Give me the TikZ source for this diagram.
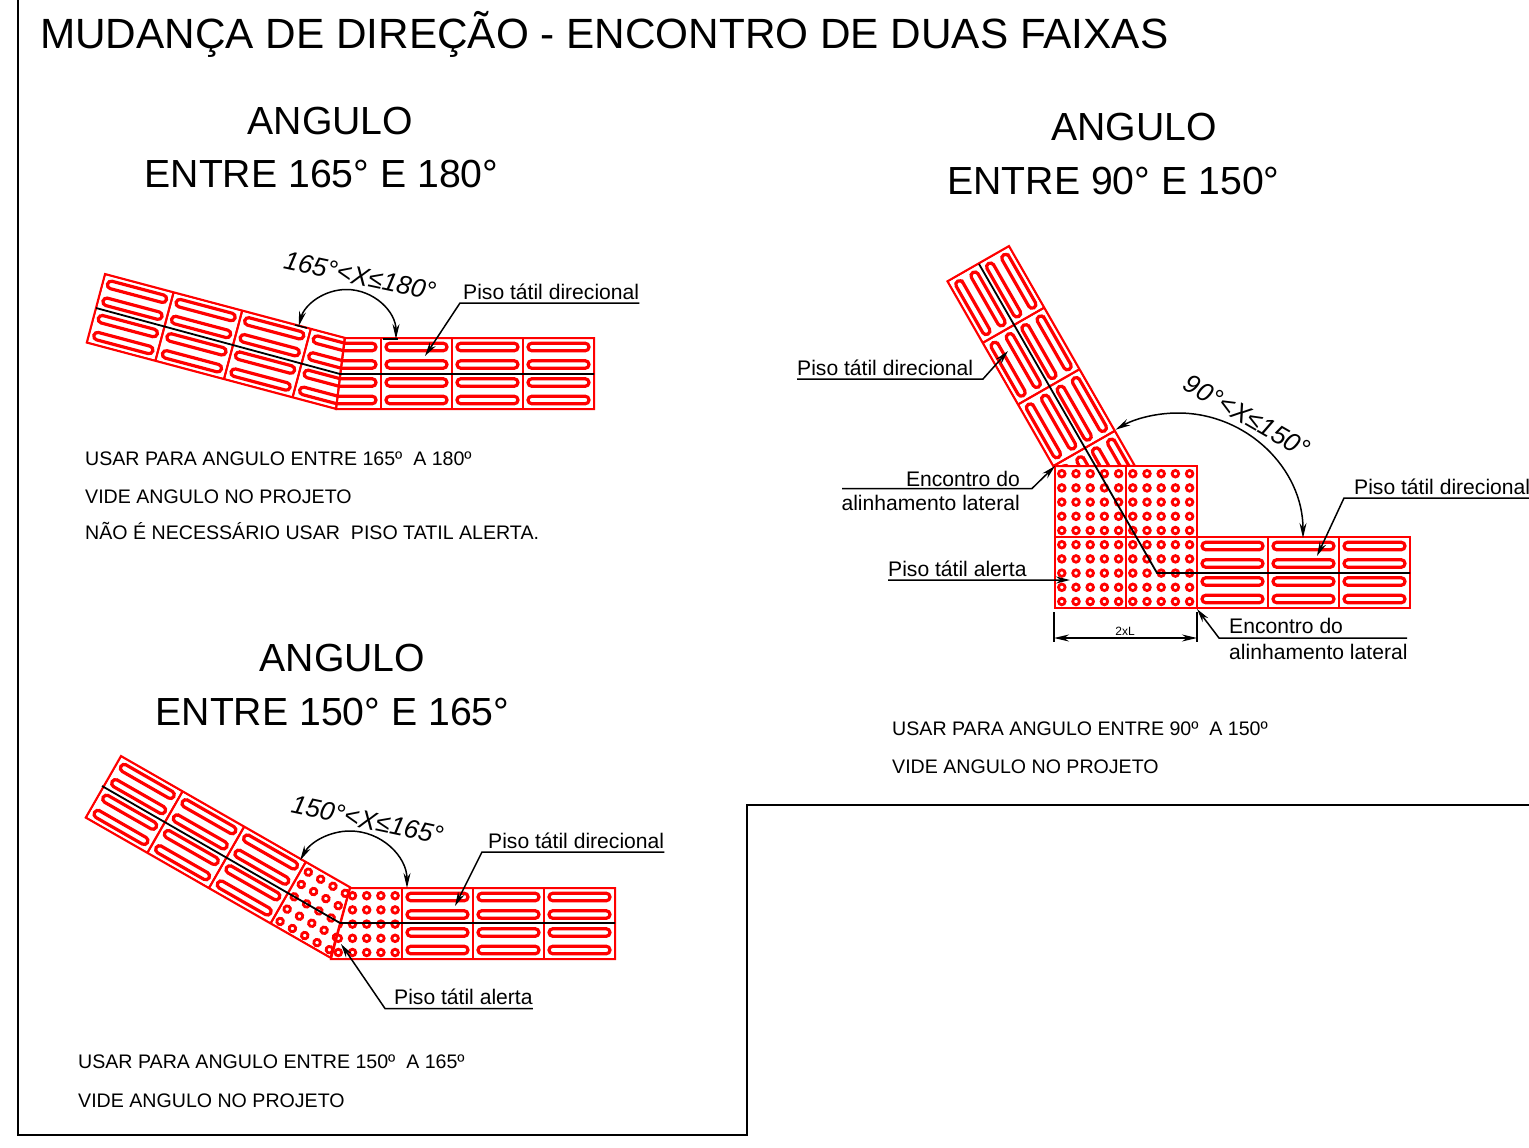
\documentclass[tikz,border=0pt]{standalone}
\usepackage{fontspec}
\setmainfont{Liberation Sans}
\usepackage{tikz}
\usetikzlibrary{arrows.meta}

\tikzset{
	tile/.style = {draw = red, line width = 2pt, line join = miter},
	slot/.style = {draw = red, line width = 3.2pt},
	ring/.style = {draw = red, line width = 2.8pt},
	axisline/.style = {draw = black, line width = 1.8pt},
	frameline/.style = {draw = black, line width = 1.6pt},
	leader/.style = {draw = black, line width = 1.5pt, -{Stealth[length = 14pt, width = 7pt]}},
	measure/.style = {draw = black, line width = 1.5pt, {Stealth[length = 15pt, width = 7pt]}-{Stealth[length = 15pt, width = 7pt]}},
	thinline/.style = {draw = black, line width = 1.5pt},
	titletext/.style = {inner sep = 0, anchor = base west, font = \fontsize{42.3}{42.3}\selectfont},
	headtext/.style = {inner sep = 0, anchor = base, font = \fontsize{39.2}{39.2}\selectfont},
	notetext/.style = {inner sep = 0, anchor = base west, font = \fontsize{19.6}{19.6}\selectfont},
	lbl/.style = {inner sep = 0, anchor = base west, text depth = 4pt, font = \fontsize{21.1}{21.1}\selectfont},
	angletext/.style = {inner sep = 0, font = \fontsize{26}{26}\selectfont\itshape},
}

% one tile with four slots, one tile with 5x5 rings
\newcommand{\bartile}[2]{
	\begin{scope}[shift = {(#1,#2)}]
		\draw[tile] (0,0) rectangle (71,71);
		\foreach \yy in {9,26.5,44.5,62}
			\draw[slot] (8.8,\yy-3.8) -- (62.2,\yy-3.8) arc [start angle = 90, end angle = -90, radius = 3.8pt]
				-- (8.8,\yy+3.8) arc [start angle = 270, end angle = 90, radius = 3.8pt] -- cycle;
	\end{scope}
}
\newcommand{\ringtile}[2]{
	\begin{scope}[shift = {(#1,#2)}]
		\draw[tile] (0,0) rectangle (71,71);
		\foreach \ii in {0,...,4}
			\foreach \jj in {0,...,4}
				\draw[ring] (7.3+14.2*\ii,7.7+14.2*\jj) circle (3.3pt);
	\end{scope}
}

\begin{document}
\begin{tikzpicture}[x = 1pt, y = -1pt]
	\useasboundingbox (0,0) rectangle (1529,1148);
	
	% frame
	\draw[frameline] (18,0) -- (18,1135) -- (747,1135) -- (747,805) -- (1529,805);
	
	\node[titletext] (title) at (40,49) {MUDANÇA DE DIREÇÃO - ENCONTRO DE DUAS FAIXAS};
	
	% ---- 165 to 180 ----
	\node[headtext] (headA) at (330.5,134) {ANGULO};
	\node[headtext] (rangeA) at (321.5,187.5) {ENTRE 165° E 180°};
	
	\begin{scope}[shift = {(105,274)}, rotate = -14.9]
		\begin{scope}
			\clip (0,0) -- (248,0) -- (258,71) -- (0,71) -- cycle;
			\foreach \i in {0,1,2,3} {\bartile{71*\i}{0}}
		\end{scope}
		\draw[tile] (0,0) -- (248,0) -- (258,71) -- (0,71) -- cycle;
	\end{scope}
	\begin{scope}
		\clip (345,338) -- (594,338) -- (594,409) -- (336,409) -- cycle;
		\foreach \i in {0,1,2,3} {\bartile{310+71*\i}{338}}
	\end{scope}
	\draw[tile] (345,338) -- (594,338) -- (594,409) -- (336,409) -- cycle;
	\draw[axisline] (96,308) -- (340,374) -- (594,374);
	
	\coordinate (arcAr) at (396,339);
	\draw[measure] (arcAr) arc [start angle = 0, end angle = 165, radius = 49.5pt];
	\draw[thinline] (295,325) -- (307,328);
	\draw[thinline] (383,339) -- (398,339);
	\node[angletext, rotate = -12] (angA) at (360,276) {165°<X≤180°};
	
	\node[lbl] (dirA) at (463,299) {Piso tátil direcional};
	\coordinate (dirAtip) at (425,356);
	\draw[leader] (dirA.south east) -- (460,303) -- (dirAtip);
	
	\node[notetext] (noteA) at (85,465) {USAR PARA ANGULO ENTRE 165º\ \ A 180º};
	\node[notetext] (noteB) at (85,503) {VIDE ANGULO NO PROJETO};
	\node[notetext] (noteC) at (85,539) {NÃO É NECESSÁRIO USAR\ \ PISO TATIL ALERTA.};
	
	% ---- 150 to 165 ----
	\node[headtext] (headB) at (342.5,671) {ANGULO};
	\node[headtext] (rangeB) at (332.5,725.5) {ENTRE 150° E 165°};
	
	\begin{scope}[shift = {(121,756)}, rotate = -29.8]
		\begin{scope}
			\clip (0,0) -- (264,0) -- (282,71) -- (0,71) -- cycle;
			\foreach \i in {0,1,2} {\bartile{71*\i}{0}}
			\ringtile{213}{0}
		\end{scope}
		\draw[tile] (0,0) -- (264,0) -- (282,71) -- (0,71) -- cycle;
	\end{scope}
	\begin{scope}
		\clip (350,888) -- (615,888) -- (615,959) -- (331,959) -- cycle;
		\ringtile{331}{888}
		\foreach \i in {0,1,2} {\bartile{402+71*\i}{888}}
	\end{scope}
	\draw[tile] (350,888) -- (615,888) -- (615,959) -- (331,959) -- cycle;
	\draw[axisline] (102,786) -- (340,923) -- (615,923);
	
	\coordinate (arcBr) at (407,888);
	\draw[measure] (arcBr) arc [start angle = 0, end angle = 151, radius = 57pt];
	\node[angletext, rotate = -12] (angB) at (367.5,820) {150°<X≤165°};
	
	\node[lbl] (dirB) at (488,848) {Piso tátil direcional};
	\coordinate (dirBtip) at (455,906);
	\draw[leader] (dirB.south east) -- (482,852) -- (dirBtip);
	
	\node[lbl] (alertB) at (394,1004.5) {Piso tátil alerta};
	\coordinate (alertBtip) at (341,944);
	\draw[leader] (alertB.south east) -- (385,1008.5) -- (alertBtip);
	
	\node[notetext] (noteD) at (78,1068) {USAR PARA ANGULO ENTRE 150º\ \ A 165º};
	\node[notetext] (noteE) at (78,1107) {VIDE ANGULO NO PROJETO};
	
	% ---- 90 to 150 ----
	\node[headtext] (headC) at (1134,140) {ANGULO};
	\node[headtext] (rangeC) at (1113.5,194.5) {ENTRE 90° E 150°};
	
	\begin{scope}[shift = {(1009,246)}, rotate = -60.2]
		\begin{scope}
			\clip (0,0) -- (253.5,0) -- (213,71) -- (0,71) -- cycle;
			\foreach \i in {0,1,2,3} {\bartile{71*\i}{0}}
		\end{scope}
		\draw[tile] (0,0) -- (253.5,0) -- (213,71) -- (0,71) -- cycle;
	\end{scope}
	\ringtile{1054.5}{466}
	\ringtile{1125.5}{466}
	\ringtile{1054.5}{537}
	\ringtile{1125.5}{537}
	\foreach \i in {0,1,2} {\bartile{1197+71*\i}{537}}
	\draw[axisline] (979,264) -- (1157,573) -- (1410,573);
	
	\coordinate (arcCr) at (1303,538);
	\draw[measure] (arcCr) arc [start angle = 0, end angle = 120, radius = 125pt];
	\node[angletext, rotate = -30] (angC) at (1247,416) {90°<X≤150°};
	
	\node[lbl] (dirC) at (797,375) {Piso tátil direcional};
	\coordinate (dirCtip) at (1008,351);
	\draw[leader] (dirC.south west) -- (983,379) -- (dirCtip);
	
	\node[lbl, anchor = base east] (meetC) at (1020,486) {Encontro do};
	\node[lbl, anchor = base east] (sideC) at (1020,510) {alinhamento lateral};
	\coordinate (meetCstart) at (842,488.5);
	\coordinate (meetCtip) at (1055,466);
	\draw[leader] (meetCstart) -- (1032,488.5) -- (meetCtip);
	
	\node[lbl] (alertC) at (888,576) {Piso tátil alerta};
	\coordinate (alertCtip) at (1070,580);
	\draw[leader] (alertC.south west) -- (alertCtip);
	
	\node[lbl] (dirD) at (1354,494) {Piso tátil direcional};
	\coordinate (dirDtip) at (1317,556);
	\draw[leader] (dirD.south east) -- (1344,498) -- (dirDtip);
	
	\node[lbl] (meetD) at (1229,633) {Encontro do};
	\node[lbl] (sideD) at (1229,659) {alinhamento lateral};
	\coordinate (meetDend) at (1407,638);
	\coordinate (meetDtip) at (1197,609);
	\draw[leader] (meetDend) -- (1219,638) -- (meetDtip);
	
	\coordinate (dimL) at (1054,638);
	\coordinate (dimR) at (1197,638);
	\draw[thinline] (1054,612) -- (1054,642);
	\draw[thinline] (1197,612) -- (1197,642);
	\draw[measure] (dimL) -- (dimR);
	\node[inner sep = 0, font = \fontsize{12}{12}\selectfont] (dimtext) at (1125,631) {2xL};
	
	\node[notetext] (noteF) at (892,735) {USAR PARA ANGULO ENTRE 90º\ \ A 150º};
	\node[notetext] (noteG) at (892,773) {VIDE ANGULO NO PROJETO};
\end{tikzpicture}
\end{document}
